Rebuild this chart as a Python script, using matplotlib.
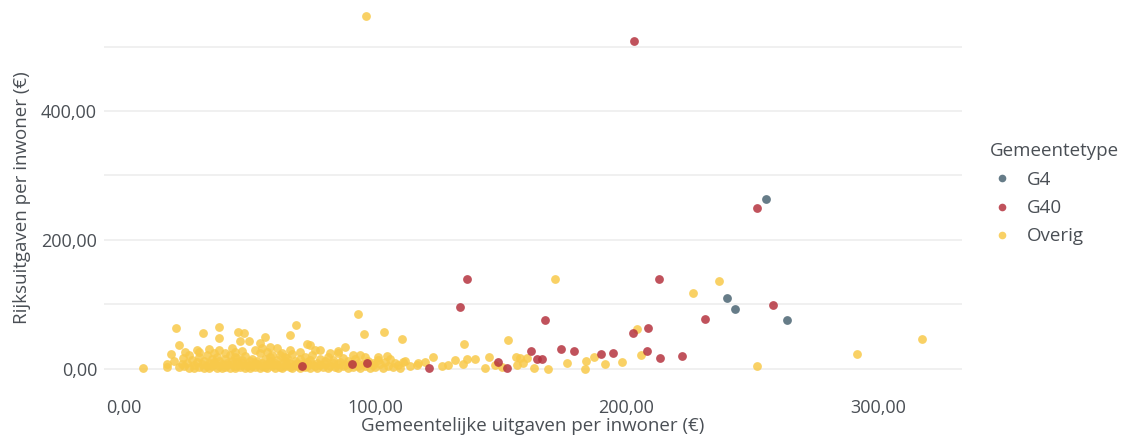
import matplotlib
matplotlib.use("Agg")
import matplotlib.pyplot as plt
from matplotlib.ticker import FixedLocator, FuncFormatter
from matplotlib.lines import Line2D

plt.rcParams['font.family'] = ['Open Sans', 'DejaVu Sans']

categories = ["G4", "G40", "Overig"]
colors = {"G4": "#4b6573", "G40": "#b5343f", "Overig": "#f8c94a"}

g4_x = [240, 243, 255.3, 264]
g4_y = [110, 93, 263.6, 76]

g40_x = [203, 252, 213, 136.4, 133.7, 258.4, 231.4, 167.4, 202.4, 208.7, 162, 173.8, 179,
         190, 194.8, 208.3, 213.5, 221.9, 164.2, 166.2, 90.6, 96.7, 121.4, 148.7, 152.4, 71]
g40_y = [508, 249.6, 139.5, 139.5, 96, 99, 78, 76, 56, 64, 28, 31, 28,
         23, 25, 28, 17, 20, 15.5, 15.5, 8, 9, 1.5, 11, 2, 5]

overig_x = [96.2, 7.7, 20.7, 21.9, 18.6, 17, 17, 24.3, 23.5, 31.5, 37.8, 37.8, 45.4, 47.7, 46,
            49.7, 56, 54, 55, 58, 68.4, 66, 73, 30, 63, 44, 38, 93, 95.5, 103.5, 110.5, 135.3,
            153, 88, 78, 74, 85, 91, 94, 101, 104.6, 111, 116.6, 119.8, 123, 126.5, 129, 131.7,
            135, 136.5, 139.7, 143.6, 145.2, 147.6, 150.4, 156, 156.4, 158.8, 157.5, 160.2, 163,
            168.6, 176.5, 183.3, 184, 187, 191.3, 198, 205.6, 252, 171.4, 236.6, 226.6, 204,
            317.7, 291.8,
            24, 25, 26, 27, 28, 28, 29, 30, 30, 31, 32, 32, 33, 33, 34, 34, 35, 35, 36, 36, 37, 37,
            38, 38, 39, 39, 40, 40, 41, 41, 42, 42, 43, 43, 44, 44, 45, 45, 46, 46, 47, 47, 48, 48,
            49, 49, 50, 50, 51, 51, 52, 52, 53, 53, 54, 54, 55, 55, 56, 56, 57, 57, 58, 58, 59, 59,
            60, 60, 61, 61, 62, 62, 63, 63, 64, 64, 65, 65, 66, 66, 67, 67, 68, 68, 69, 69, 70, 70,
            71, 72, 72, 73, 73, 74, 74, 75, 75, 76, 77, 77, 78, 78, 79, 80, 80, 81, 81, 82, 83, 83,
            84, 85, 85, 86, 87, 87, 88, 89, 89, 90, 91, 92, 93, 93, 94, 95, 96, 96, 97, 98, 99, 99,
            100, 101, 102, 103, 104, 105, 106, 107, 108, 109, 110, 112, 114, 117,
            20, 22, 23, 26, 29, 34, 40, 43, 47, 52, 57, 61, 66, 70, 76, 82, 85, 59, 64, 44, 36]
overig_y = [547, 1, 63.6, 37, 23, 8, 3, 26, 17, 55.6, 65, 48, 57, 56, 44,
            44, 50, 40, 32, 34, 68, 53, 39, 26, 25, 26, 29, 85, 54, 58, 47, 38,
            45, 34, 29, 37, 25, 22, 22, 19, 20, 11, 6, 11, 18, 5, 6, 14,
            8, 15, 15, 1.5, 18, 6, 3, 19, 6, 9, 17, 17, 1.5,
            0, 9, 0, 12, 18, 8, 11, 22, 5, 139.5, 136, 118, 62,
            46.5, 23,
            4, 9, 2, 14, 6, 1, 11, 3, 18, 7, 2, 12, 5, 21, 9, 1, 15, 4, 7, 11, 2, 19,
            5, 13, 8, 1, 3, 16, 10, 6, 2, 22, 8, 13, 4, 1, 11, 17, 6, 3, 9, 14, 2, 20,
            7, 4, 12, 1, 5, 16, 9, 3, 13, 7, 2, 24, 10, 5, 15, 3, 8, 1, 12, 19, 4, 7,
            10, 2, 14, 6, 3, 21, 9, 1, 5, 13, 7, 17, 3, 10, 1, 23, 6, 12, 4, 9, 15, 2,
            8, 3, 18, 11, 5, 1, 14, 7, 21, 4, 10, 2, 16, 6, 3, 12, 8, 1, 19, 5, 9, 14,
            3, 7, 2, 11, 17, 4, 6, 1, 13, 8, 3, 15, 5, 10, 2, 7, 18, 4, 12, 1, 6, 9,
            3, 14, 7, 2, 11, 5, 16, 3, 9, 6, 1, 13, 4, 9,
            12, 3, 8, 22, 30, 31, 25, 33, 28, 30, 27, 32, 29, 26, 30, 24, 28, 22, 19, 19, 24]

x_ticks = [0, 100, 200, 300]
y_ticks = [0, 200, 400]
y_minor = [100, 300, 500]

text_color = "#4a4f55"
grid_color = "#ededed"

fig = plt.figure(figsize=(11.32, 4.36), dpi=100)
ax = fig.add_axes([104 / 1132, 48 / 436, 858 / 1132, 380 / 436])

series = {"G4": (g4_x, g4_y), "G40": (g40_x, g40_y), "Overig": (overig_x, overig_y)}
for cat in ["Overig", "G40", "G4"]:
    xs, ys = series[cat]
    ax.scatter(xs, ys, s=40, color=colors[cat], alpha=0.85, linewidths=0, zorder=3)

ax.set_xlim(-7.96, 333.5)
ax.set_ylim(-29.5, 559.7)

for s in ax.spines.values():
    s.set_visible(False)

ax.yaxis.set_major_locator(FixedLocator(y_ticks))
ax.yaxis.set_minor_locator(FixedLocator(y_minor))
ax.xaxis.set_major_locator(FixedLocator(x_ticks))
fmt = FuncFormatter(lambda v, p: f"{v:.2f}".replace(".", ","))
ax.xaxis.set_major_formatter(fmt)
ax.yaxis.set_major_formatter(fmt)
ax.grid(axis="y", which="both", color=grid_color, linewidth=1.2, zorder=0)
ax.grid(axis="x", visible=False)
ax.tick_params(axis="both", which="both", length=0, labelsize=13, labelcolor=text_color)
ax.tick_params(axis="y", pad=5)
ax.tick_params(axis="x", pad=8)
ax.set_axisbelow(True)

ax.set_xlabel("Gemeentelijke uitgaven per inwoner (€)", fontsize=13.5, color=text_color, labelpad=0)
ax.set_ylabel("Rijksuitgaven per inwoner (€)", fontsize=13.5, color=text_color, labelpad=7)

handles = [Line2D([0], [0], marker="o", linestyle="", markersize=5.5, markerfacecolor=colors[c],
                  markeredgewidth=0, alpha=0.85, label=c) for c in categories]
leg = fig.legend(handles=handles, title="Gemeentetype", loc="upper left",
                 bbox_to_anchor=(982 / 1132, 1 - 135 / 436), frameon=False,
                 fontsize=13.5, title_fontsize=13.5, handletextpad=0.7, labelspacing=0.55,
                 handlelength=1.3, borderaxespad=0)
leg._legend_box.align = "left"
for t in leg.get_texts():
    t.set_color(text_color)
leg.get_title().set_color(text_color)

fig.savefig("out.png", dpi=100)
